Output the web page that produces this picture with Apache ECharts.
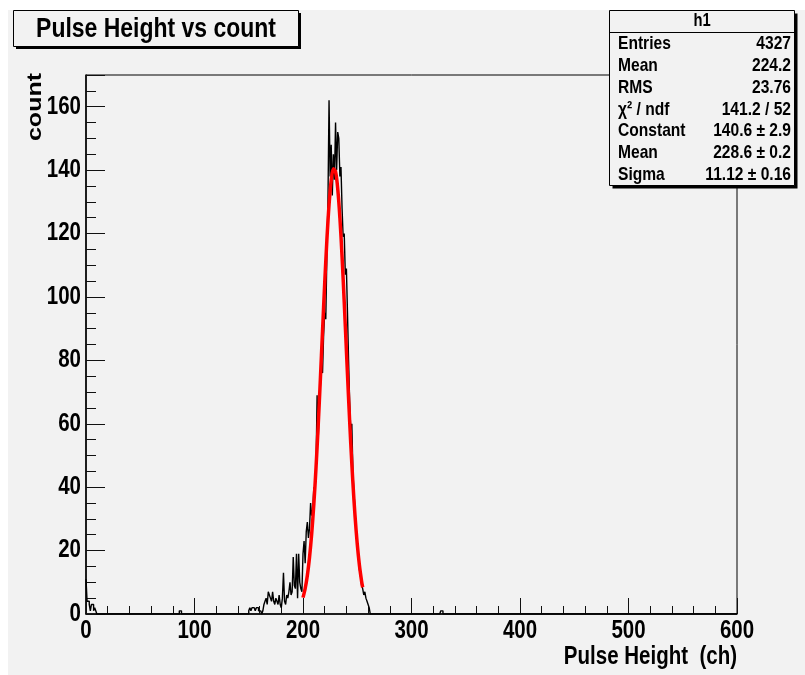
<!DOCTYPE html>
<html><head><meta charset="utf-8">
<script src="https://cdn.jsdelivr.net/npm/echarts@6/dist/echarts.min.js"></script>
<style>html,body{margin:0;padding:0;background:#fff}#c{width:805px;height:675px}</style>
</head><body><div id="c"></div>
<script>
// ---- data ----
const xTicks = [0, 100, 200, 300, 400, 500, 600];
const yTicks = [0, 20, 40, 60, 80, 100, 120, 140, 160];
const lowStart = 0;
const lowCounts = [11, 4, 4, 3, 1, 3, 3, 1, 2, 1];
const peakStart = 150;
const peakCounts = [
  1, 2, 1, 2, 2, 2, 1, 2, 2, 1,        // 150-159
  1, 1, 0, 1, 3, 4, 5, 3, 7, 6,        // 160-169
  5, 4, 7, 4, 3, 5, 4, 3, 6, 3,        // 170-179
  2, 5, 13, 4, 3, 6, 5, 7, 10, 6,      // 180-189
  7, 18, 9, 8, 19, 5, 19, 10, 8, 7,    // 190-199
  19, 23, 16, 26, 29, 24, 27, 35, 31, 33, // 200-209
  40, 38, 46, 69, 55, 66, 72, 78, 76, 88, // 210-219
  95, 93, 113, 130, 162, 138, 148, 132, 145, 137, // 220-229
  155, 140, 152, 150, 138, 141, 128, 119, 120, 107, // 230-239
  109, 95, 80, 67, 58, 60, 45, 38, 33, 25, // 240-249
  22, 18, 14, 12, 9, 8, 6, 7, 5, 4,    // 250-259
  3, 2                                 // 260-261
];
const strayBins = [86, 87, 327, 328];
const strayCounts = [1, 1, 1, 1];
const fitX = [200, 202, 204, 206, 208, 210, 212, 214, 216, 218, 220, 222, 224, 226, 228,
              230, 232, 234, 236, 238, 240, 242, 244, 246, 248, 250, 252, 254, 255];
const fitY = [5.15, 8.04, 12.17, 17.83, 25.28, 34.70, 46.15, 59.39, 74.00, 89.27, 104.26, 117.89, 129.07, 136.80, 140.40,
              139.49, 134.18, 124.97, 112.68, 98.36, 83.14, 68.03, 53.89, 41.34, 30.70, 22.07, 15.37, 10.35, 8.40];
const statLabels = ['Entries', 'Mean', 'RMS', 'χ² / ndf', 'Constant', 'Mean', 'Sigma'];
const statValues = ['4327', '224.2', '23.76', '141.2 / 52', '140.6 ± 2.9', '228.6 ± 0.2', '11.12 ± 0.16'];
const titleText = 'Pulse Height vs count';
const xTitle = 'Pulse Height  (ch)';
const yTitle = 'count';
const statName = 'h1';

// ---- build ----
const NB = 600;
const counts = new Array(NB).fill(0);
lowCounts.forEach((c, i) => counts[lowStart + i] = c);
peakCounts.forEach((c, i) => counts[peakStart + i] = c);
strayBins.forEach((b, i) => counts[b] = strayCounts[i]);
const histData = counts.map((c, i) => [i, c]);
histData.push([NB, 0]);
const fitData = fitX.map((x, i) => [x, fitY[i]]);

const FONT = '"Liberation Sans", Arial, sans-serif';
const BG = '#f2f2f2';
const SQ = 0.82; // horizontal squeeze of the reference text

const gL = 86, gT = 75, gR = 737, gB = 614;

const graphics = [];
graphics.push({type: 'rect', z: -10, silent: true, shape: {x: 8, y: 10, width: 797, height: 665}, style: {fill: BG}});
// title box with shadow
graphics.push({type: 'rect', z: 10, shape: {x: 16, y: 13, width: 285, height: 36}, style: {fill: '#000'}});
graphics.push({type: 'rect', z: 11, shape: {x: 13.5, y: 10.5, width: 285, height: 36}, style: {fill: BG, stroke: '#000', lineWidth: 1}});
graphics.push({type: 'text', z: 12, x: 156, y: 29, scaleX: SQ, style: {text: titleText, font: 'bold 28px ' + FONT, fill: '#000', align: 'center', verticalAlign: 'middle'}});
// stats box
const sx = 609.5, sy = 10.5, sw = 185, sh = 175;
graphics.push({type: 'rect', z: 10, shape: {x: sx + 3, y: sy + 3, width: sw, height: sh}, style: {fill: '#000'}});
graphics.push({type: 'rect', z: 11, shape: {x: sx, y: sy, width: sw, height: sh}, style: {fill: BG, stroke: '#000', lineWidth: 1}});
graphics.push({type: 'line', z: 12, shape: {x1: sx, y1: 32.5, x2: sx + sw, y2: 32.5}, style: {stroke: '#000', lineWidth: 1}});
graphics.push({type: 'text', z: 12, x: sx + sw / 2, y: 21.5, scaleX: SQ, style: {text: statName, font: 'bold 18px ' + FONT, fill: '#000', align: 'center', verticalAlign: 'middle'}});
statLabels.forEach((lab, i) => {
  const yy = 44 + i * 21.8;
  graphics.push({type: 'text', z: 12, x: 618, y: yy, scaleX: SQ, style: {text: lab, font: 'bold 19px ' + FONT, fill: '#000', align: 'left', verticalAlign: 'middle'}});
  graphics.push({type: 'text', z: 12, x: 791, y: yy, scaleX: SQ, style: {text: statValues[i], font: 'bold 19px ' + FONT, fill: '#000', align: 'right', verticalAlign: 'middle'}});
});
// axis titles
graphics.push({type: 'text', z: 12, x: 737, y: 657, scaleX: SQ, style: {text: xTitle, font: 'bold 25px ' + FONT, fill: '#000', align: 'right', verticalAlign: 'middle'}});
graphics.push({type: 'text', z: 12, x: 35, y: 73, rotation: Math.PI / 2, scaleY: SQ, style: {text: yTitle, font: 'bold 25px ' + FONT, fill: '#000', align: 'right', verticalAlign: 'middle'}});

const chart = echarts.init(document.getElementById('c'), null, {renderer: 'canvas'});
chart.setOption({
  animation: false,
  backgroundColor: '#fff',
  grid: {left: gL, top: gT, right: 805 - gR, bottom: 675 - gB, show: true, borderColor: '#000', borderWidth: 1, backgroundColor: 'transparent'},
  xAxis: {
    type: 'value', min: xTicks[0], max: xTicks[xTicks.length - 1], interval: xTicks[1] - xTicks[0],
    axisLine: {show: true, onZero: false, lineStyle: {color: '#000', width: 1.5}},
    axisTick: {show: true, inside: true, length: 16, lineStyle: {color: '#111', width: 1}},
    minorTick: {show: true, splitNumber: 5, length: 8, lineStyle: {color: '#111', width: 1}},
    splitLine: {show: false},
    axisLabel: {show: false}
  },
  yAxis: {
    type: 'value', min: yTicks[0], max: 170, interval: yTicks[1] - yTicks[0],
    axisLine: {show: true, onZero: false, lineStyle: {color: '#000', width: 1.5}},
    axisTick: {show: true, inside: true, length: 19, lineStyle: {color: '#111', width: 1}},
    minorTick: {show: true, splitNumber: 4, length: 10, lineStyle: {color: '#111', width: 1}},
    splitLine: {show: false},
    axisLabel: {show: false}
  },
  series: [
    {type: 'line', data: histData, step: 'end', symbol: 'none', lineStyle: {color: '#000', width: 1.4}, z: 3},
    {type: 'line', data: fitData, smooth: 0.3, symbol: 'none', lineStyle: {color: '#ff0000', width: 3.5}, z: 4}
  ],
  graphic: graphics
});

// tick labels, placed through the axes' own scales, drawn condensed like the reference
const labels = [];
xTicks.forEach(v => {
  const px = chart.convertToPixel({xAxisIndex: 0}, v);
  labels.push({type: 'text', z: 12, x: px, y: 631, scaleX: SQ, style: {text: String(v), font: 'bold 25px ' + FONT, fill: '#000', align: 'center', verticalAlign: 'middle'}});
});
yTicks.forEach(v => {
  const py = chart.convertToPixel({yAxisIndex: 0}, v);
  labels.push({type: 'text', z: 12, x: gL - 5, y: py, scaleX: SQ, style: {text: String(v), font: 'bold 25px ' + FONT, fill: '#000', align: 'right', verticalAlign: 'middle'}});
});
chart.setOption({graphic: graphics.concat(labels)});
</script></body></html>
